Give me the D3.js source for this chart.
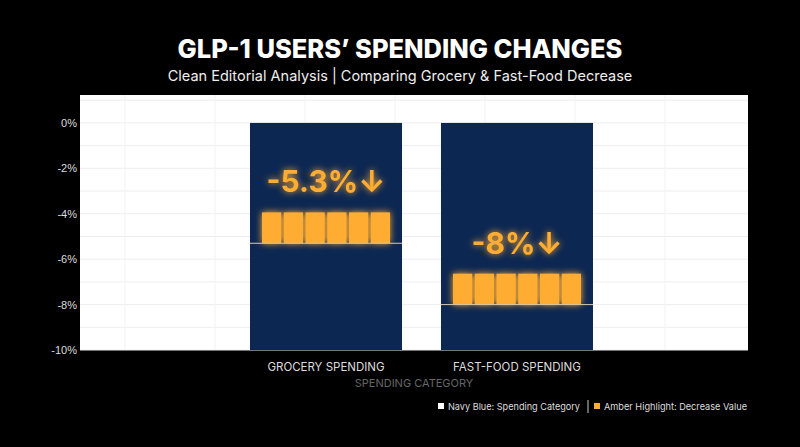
<!DOCTYPE html><html><head><meta charset="utf-8">
<script src="https://cdn.jsdelivr.net/npm/d3@7"></script>
<style>body{margin:0;background:#000;}svg{display:block;font-family:Inter,'Noto Sans',sans-serif;}</style></head><body>
<svg id="c" width="800" height="447"></svg>
<script>
const categories=["GROCERY SPENDING","FAST-FOOD SPENDING"];
const values=[-5.3,-8];
const labels=["-5.3%↓","-8%↓"];
const yTicks=[0,-2,-4,-6,-8,-10];
const svg=d3.select("#c");
svg.append("rect").attr("width",800).attr("height",447).attr("fill","#000");
const defs=svg.append("defs");
const f=defs.append("filter").attr("id","glow").attr("x","-30%").attr("y","-30%").attr("width","160%").attr("height","160%");
f.append("feGaussianBlur").attr("stdDeviation",3.5).attr("result","b");
const m=f.append("feMerge");m.append("feMergeNode").attr("in","b");m.append("feMergeNode").attr("in","SourceGraphic");
const L=80,R=748,T=95,B=350;
svg.append("rect").attr("x",L).attr("y",T).attr("width",R-L).attr("height",B-T).attr("fill","#fff");
const y=d3.scaleLinear().domain([-10,1.23]).range([B,T]);
const x=d3.scaleBand().domain(categories).range([250,593]).paddingInner(0.204).paddingOuter(0);
const g=svg.append("g");
d3.range(-10,1.01,1).forEach(v=>g.append("line").attr("x1",L).attr("x2",R).attr("y1",y(v)).attr("y2",y(v)).attr("stroke","#eee").attr("stroke-width",1));
d3.range(L+45,R,90).forEach(v=>g.append("line").attr("x1",v).attr("x2",v).attr("y1",T).attr("y2",B).attr("stroke","#f2f2f2"));
const ya=svg.append("g").attr("transform",`translate(${L},0)`).call(d3.axisLeft(y).tickValues(yTicks).tickFormat(d=>d+"%").tickSize(0).tickPadding(3));
ya.select(".domain").remove();ya.selectAll("text").attr("fill","#ddd").attr("font-size",11);
categories.forEach((c,i)=>{
 const x0=x(c),w=x.bandwidth(),v=values[i];
 svg.append("rect").attr("x",x0).attr("y",y(0)).attr("width",w).attr("height",y(-10)-y(0)).attr("fill","#0c2752");
 const top=y(v+1.36),bh=y(v)-top,n=6,pad=12,gap=2.5,sw=(w-2*pad-gap*(n-1))/n;
 const gg=svg.append("g").attr("filter","url(#glow)");
 for(let k=0;k<n;k++)gg.append("rect").attr("x",x0+pad+k*(sw+gap)).attr("y",top).attr("width",sw).attr("height",bh).attr("fill","#ffad33");
 svg.append("line").attr("x1",x0).attr("x2",x0+w).attr("y1",y(v)).attr("y2",y(v)).attr("stroke","#d9c9a8").attr("stroke-width",1);
 svg.append("text").attr("x",x0+w/2).attr("y",top-20).attr("text-anchor","middle").attr("font-size",30).attr("font-weight",700).attr("fill","#ffad33").attr("filter","url(#glow)").text(labels[i]);
 svg.append("text").attr("x",x0+w/2).attr("y",371).attr("text-anchor","middle").attr("font-size",11.5).attr("fill","#ddd").text(c);
});
svg.append("text").attr("x",414).attr("y",387).attr("text-anchor","middle").attr("font-size",11).attr("fill","#666").text("SPENDING CATEGORY");
svg.append("text").attr("x",400).attr("y",58).attr("text-anchor","middle").attr("font-size",25.5).attr("font-weight",800).attr("fill","#fff").text("GLP-1 USERS’ SPENDING CHANGES");
svg.append("text").attr("x",400).attr("y",81).attr("text-anchor","middle").attr("font-size",14.5).attr("fill","#eee").text("Clean Editorial Analysis | Comparing Grocery & Fast-Food Decrease");
const lg=svg.append("g").attr("font-size",9.5).attr("fill","#ddd");
lg.append("rect").attr("x",438).attr("y",403).attr("width",6).attr("height",6).attr("fill","#fff");
lg.append("text").attr("x",448).attr("y",410).attr("textLength",132).attr("lengthAdjust","spacingAndGlyphs").text("Navy Blue: Spending Category");
lg.append("line").attr("x1",588).attr("x2",588).attr("y1",400).attr("y2",413).attr("stroke","#ccc");
lg.append("rect").attr("x",594).attr("y",403).attr("width",6).attr("height",6).attr("fill","#ffad33");
lg.append("text").attr("x",604).attr("y",410).attr("textLength",143).attr("lengthAdjust","spacingAndGlyphs").text("Amber Highlight: Decrease Value");
</script></body></html>
